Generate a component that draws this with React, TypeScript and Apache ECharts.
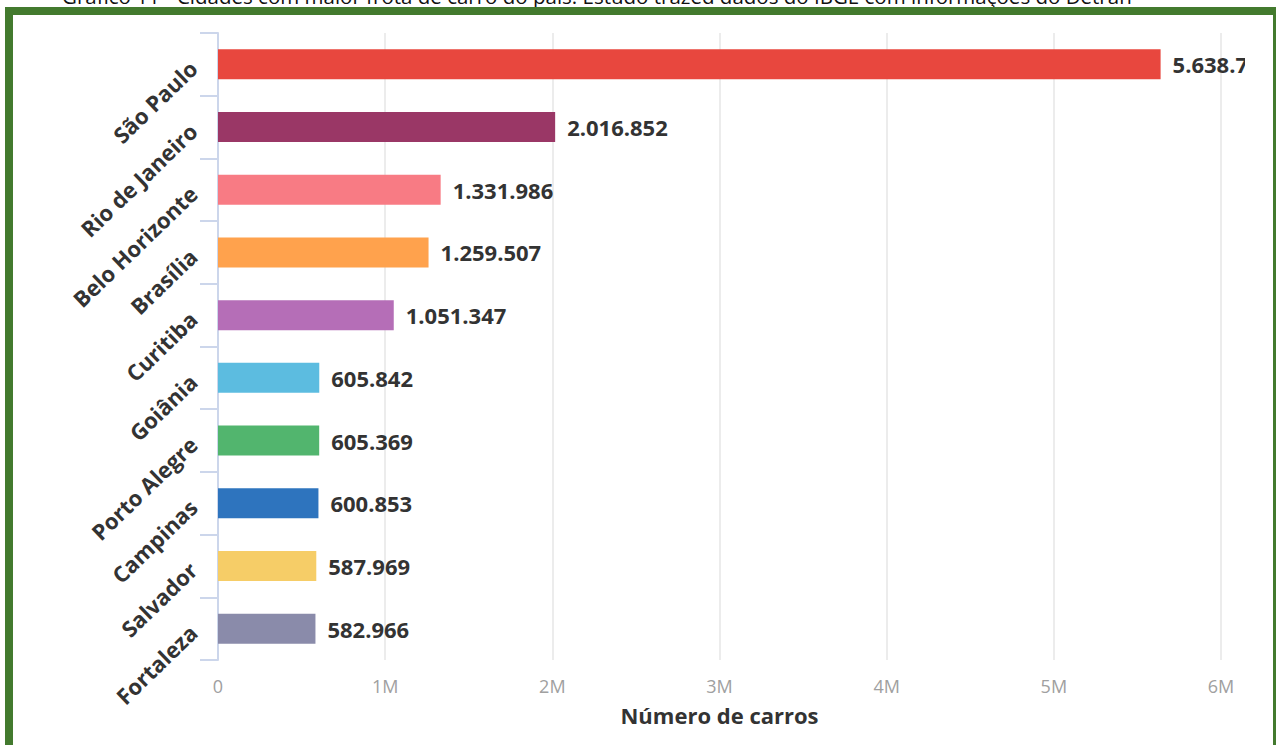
import React, { useEffect, useRef } from "react";
import * as echarts from "echarts";

const cities = [
  "São Paulo",
  "Rio de Janeiro",
  "Belo Horizonte",
  "Brasília",
  "Curitiba",
  "Goiânia",
  "Porto Alegre",
  "Campinas",
  "Salvador",
  "Fortaleza",
];
const cars = [5638700, 2016852, 1331986, 1259507, 1051347, 605842, 605369, 600853, 587969, 582966];
const barColors = [
  "#E8473E",
  "#9A3766",
  "#F87B84",
  "#FFA24D",
  "#B56EB7",
  "#5CBCE0",
  "#52B56E",
  "#2E74BE",
  "#F6CD67",
  "#8A8BAA",
];
const xTicks = [0, 1000000, 2000000, 3000000, 4000000, 5000000, 6000000];
const caption =
  "Gráfico 11 - Cidades com maior frota de carro do país. Estudo trazed dados do IBGE com informações do Detran";
const axisTitle = "Número de carros";

const fmtDots = (v: number) => String(Math.round(v)).replace(/\B(?=(\d{3})+(?!\d))/g, ".");

export default function App() {
  const ref = useRef<HTMLDivElement>(null);
  useEffect(() => {
    if (!ref.current) return;
    const chart = echarts.init(ref.current, undefined, { renderer: "svg" });
    chart.setOption({
      animation: false,
      backgroundColor: "transparent",
      grid: { left: 218, top: 33, right: 24, bottom: 85, containLabel: false },
      xAxis: {
        type: "value",
        min: xTicks[0],
        max: xTicks[xTicks.length - 1],
        interval: xTicks[1] - xTicks[0],
        axisLine: { show: false },
        axisTick: { show: false },
        splitLine: { show: true, lineStyle: { color: "#e6e6e6", width: 1.5 } },
        axisLabel: {
          color: "#a0a0a0",
          fontFamily: "Open Sans",
          fontSize: 18,
          margin: 17,
          formatter: (v: number) => (v === 0 ? "0" : v / 1000000 + "M"),
        },
        name: axisTitle,
        nameLocation: "middle",
        nameGap: 44,
        nameTextStyle: {
          color: "#333333",
          fontFamily: "Open Sans",
          fontWeight: "bold",
          fontSize: 22,
        },
      },
      yAxis: {
        type: "category",
        inverse: true,
        data: cities,
        axisLine: { show: true, lineStyle: { color: "#ccd6eb", width: 2 } },
        axisTick: { show: true, length: 18, lineStyle: { color: "#ccd6eb", width: 2 } },
        splitLine: { show: false },
        axisLabel: {
          rotate: 44,
          margin: 25,
          color: "#333333",
          fontFamily: "Open Sans",
          fontWeight: "bold",
          fontSize: 22,
        },
      },
      series: [
        {
          type: "bar",
          barWidth: 30,
          data: cars.map((v, i) => ({ value: v, itemStyle: { color: barColors[i] } })),
          label: {
            show: true,
            position: "right",
            distance: 12,
            color: "#333333",
            fontFamily: "Open Sans",
            fontWeight: "bold",
            fontSize: 22,
            formatter: (p: any) => fmtDots(p.value),
          },
        },
      ],
    });
    return () => chart.dispose();
  }, []);

  return (
    <div
      style={{
        position: "fixed",
        left: 0,
        top: 0,
        width: 1276,
        height: 745,
        background: "#ffffff",
        overflow: "hidden",
      }}
    >
      <div
        style={{
          position: "absolute",
          left: 62,
          top: -17,
          whiteSpace: "nowrap",
          fontFamily: "Open Sans",
          fontSize: 20.5,
          color: "#111",
          lineHeight: "26px",
        }}
      >
        {caption}
      </div>
      <div ref={ref} style={{ position: "absolute", left: 0, top: 0, width: 1245, height: 745 }} />
      <div
        style={{
          position: "absolute",
          left: 5,
          top: 7,
          width: 1276,
          height: 760,
          border: "8px solid #437A2E",
          boxSizing: "border-box",
          pointerEvents: "none",
        }}
      />
    </div>
  );
}
